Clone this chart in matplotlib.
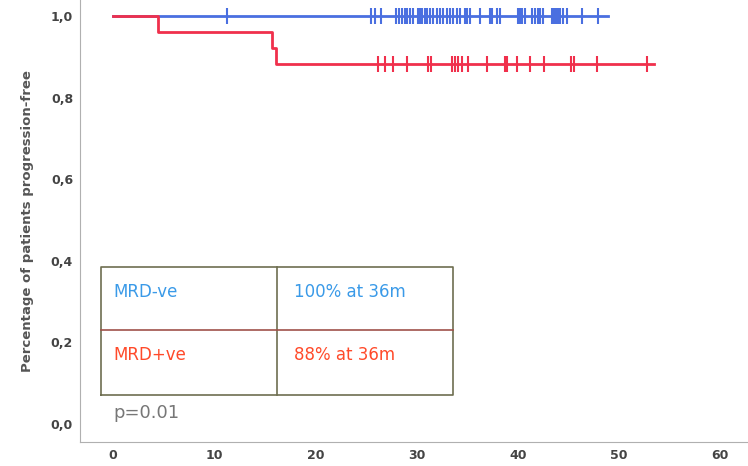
import numpy as np
import matplotlib
matplotlib.use("Agg")
from matplotlib import pyplot as plt

# tiempos (meses) y supervivencia libre de progresion
neg_times = [0, 48.9]
neg_surv = [1.0, 1.0]
neg_censor = [11.3, 25.5, 25.9, 26.5, 28.0, 28.3, 28.6, 28.9, 29.1, 29.3, 29.6, 30.1,
              30.3, 30.5, 30.8, 31.0, 31.3, 31.6, 32.0, 32.3, 32.6, 33.0, 33.3, 33.6,
              34.0, 34.3, 34.8, 35.0, 35.3, 36.3, 37.3, 37.5, 37.9, 38.2, 40.0, 40.2,
              40.4, 40.7, 41.4, 41.7, 42.0, 42.2, 42.5, 43.4, 43.6, 43.8, 44.0, 44.2,
              44.5, 44.9, 46.3, 47.9]

pos_times = [0, 4.4, 15.7, 16.1, 53.5]
pos_surv = [1.0, 0.961, 0.922, 0.883, 0.883]
pos_censor = [26.2, 26.9, 27.7, 29.1, 31.1, 31.4, 33.5, 33.8, 34.1, 34.5, 35.1, 37.0,
              38.7, 38.9, 39.9, 41.2, 42.6, 45.3, 45.6, 47.8, 52.8]

grupos = ["MRD-ve", "MRD+ve"]
resumen = ["100% at 36m", "88% at 36m"]
p_valor = "p=0.01"

x_ticks = [0, 10, 20, 30, 40, 50, 60]
y_ticks = [0.0, 0.2, 0.4, 0.6, 0.8, 1.0]
y_labels = ["0,0", "0,2", "0,4", "0,6", "0,8", "1,0"]


def surv_at(times, surv, t):
    idx = np.searchsorted(times, t, side="right") - 1
    return np.array(surv)[idx]


def main():
    fig = plt.figure(figsize=(7.48, 4.66), dpi=100)
    ax = fig.add_axes([0.107, 0.0515, 0.893, 0.9485])

    blue = "#4a6fe0"
    red = "#f0304c"
    ax.step(neg_times, neg_surv, where="post", color=blue, lw=2)
    ax.plot(neg_censor, surv_at(neg_times, neg_surv, neg_censor), "|",
            color=blue, ms=12, mew=1.5)
    ax.step(pos_times, pos_surv, where="post", color=red, lw=2)
    ax.plot(pos_censor, surv_at(pos_times, pos_surv, pos_censor), "|",
            color=red, ms=12, mew=1.5)

    ax.set_xlim(-3.26, 62.75)
    ax.set_ylim(-0.044, 1.039)
    ax.set_xticks(x_ticks)
    ax.set_yticks(y_ticks)
    ax.set_yticklabels(y_labels)
    ax.tick_params(length=0, labelsize=9, labelcolor="#444444", pad=5)
    for lab in ax.get_xticklabels() + ax.get_yticklabels():
        lab.set_fontweight("bold")
    for s in ["top", "right"]:
        ax.spines[s].set_visible(False)
    for s in ["left", "bottom"]:
        ax.spines[s].set_color("#b0b0b0")
    ax.set_ylabel("Percentage of patients progression-free", fontsize=9.5,
                  fontweight="bold", color="#555555", labelpad=12)

    # tabla
    x0, x1, xm = -1.19, 33.6, 16.2
    y0, y1, ym = 0.071, 0.385, 0.230
    ax.plot([x0, x1, x1, x0, x0], [y0, y0, y1, y1, y0], color="#6e6e50", lw=1.2)
    ax.plot([xm, xm], [y0, y1], color="#6e6e50", lw=1.2)
    ax.plot([x0, x1], [ym, ym], color="#a0524a", lw=1.2)
    colores = ["#3a9ae8", "#ff4a2a"]
    filas_y = [0.324, 0.169]
    for g, r, c, yy in zip(grupos, resumen, colores, filas_y):
        ax.text(0.0, yy, g, color=c, fontsize=12, va="center")
        ax.text(17.9, yy, r, color=c, fontsize=12, va="center")
    ax.text(0.0, 0.027, p_valor, color="#777777", fontsize=13, va="center")

    fig.savefig("out.png", dpi=100)


if __name__ == "__main__":
    main()
